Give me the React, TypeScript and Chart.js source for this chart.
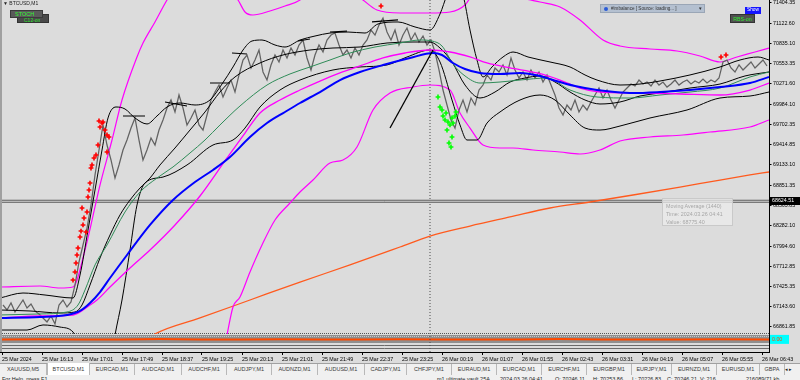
import React, { useEffect, useRef } from 'react';
import { Chart, registerables } from 'chart.js';
Chart.register(...registerables);

// ---------- axes ----------
const Y_MIN = 66511;
const Y_MAX = 71446;
const Y_TICKS = [71404.35, 71122.6, 70835.1, 70553.35, 70271.6, 69984.1, 69702.35, 69414.85, 69133.1, 68851.35, 68563.85, 68282.1, 67994.6, 67712.85, 67425.35, 67143.6, 66861.85];
const X_MIN = 0;
const X_MAX = 769;
const TIME_TICKS = [2, 42, 82, 122, 162, 202, 242, 282, 322, 362, 402, 442, 482, 522, 562, 602, 642, 682, 722, 762];
const TIME_LABELS = ['25 Mar 2024', '25 Mar 16:13', '25 Mar 17:01', '25 Mar 17:49', '25 Mar 18:37', '25 Mar 19:25', '25 Mar 20:13', '25 Mar 21:01', '25 Mar 21:49', '25 Mar 22:37', '25 Mar 23:25', '26 Mar 00:19', '26 Mar 01:07', '26 Mar 01:55', '26 Mar 02:43', '26 Mar 03:31', '26 Mar 04:19', '26 Mar 05:07', '26 Mar 05:55', '26 Mar 06:43'];

// ---------- price (close line, sampled every 4 bars from bar 3) ----------
const PRICE_START = 3;
const PRICE_STEP = 4;
const PRICE = [67170, 67100, 67198, 67072, 67156, 67240, 67128, 67184, 67086, 67044, 66988, 66932, 67016, 66904, 67170, 67240, 67142, 67212, 67450, 67773, 68011, 68249, 68572, 68993, 69343, 69694, 69413, 69203, 68950, 69133, 69343, 69483, 69651, 69792, 69483, 69203, 69343, 69511, 69413, 69623, 69764, 69932, 70044, 69876, 70114, 69932, 69694, 69792, 69904, 69694, 69623, 69834, 70044, 70156, 70254, 70086, 70212, 70324, 70156, 70395, 70605, 70675, 70493, 70605, 70745, 70437, 70324, 70535, 70675, 70577, 70745, 70633, 70773, 70675, 70815, 70885, 70633, 70465, 70675, 70815, 70717, 70885, 70955, 70983, 70815, 70675, 70745, 70633, 70773, 70675, 70815, 70885, 71025, 70955, 71096, 71194, 70997, 70885, 71025, 70815, 70955, 71053, 70885, 70983, 70857, 70941, 70815, 70885, 70717, 70465, 70184, 69974, 69764, 69651, 69904, 70044, 69876, 70072, 69974, 70184, 70254, 70395, 70324, 70493, 70437, 70535, 70395, 70633, 70465, 70352, 70437, 70324, 70465, 70352, 70437, 70296, 70395, 70254, 70114, 69932, 69834, 69974, 69904, 70044, 69876, 69974, 69904, 70016, 70114, 70212, 70072, 70184, 70044, 69932, 70044, 70156, 70212, 70268, 70240, 70324, 70268, 70296, 70240, 70324, 70254, 70296, 70226, 70268, 70324, 70254, 70296, 70324, 70268, 70310, 70282, 70338, 70282, 70324, 70296, 70352, 70577, 70605, 70493, 70437, 70535, 70465, 70521, 70577, 70493, 70549, 70605, 70521];

// ---------- indicator lines ----------
const BLUE_X = [0, 40, 67, 80, 90, 100, 110, 127, 150, 173, 195, 213, 230, 250, 267, 285, 300, 320, 340, 360, 383, 410, 433, 442, 453, 465, 480, 500, 520, 540, 553, 575, 597, 615, 633, 660, 690, 720, 750, 769];
const BLUE_Y = [66988, 67002, 67030, 67086, 67198, 67352, 67548, 67871, 68292, 68642, 68894, 69063, 69245, 69525, 69721, 69876, 70002, 70156, 70324, 70437, 70535, 70633, 70703, 70675, 70563, 70479, 70423, 70409, 70423, 70381, 70324, 70240, 70184, 70156, 70142, 70156, 70184, 70226, 70282, 70367];

const GREEN_X = [0, 40, 67, 78, 85, 95, 107, 125, 140, 157, 173, 190, 205, 220, 240, 267, 290, 310, 330, 350, 375, 400, 420, 432, 442, 453, 465, 480, 500, 520, 547, 570, 597, 630, 660, 690, 720, 750, 769];
const GREEN_Y = [67030, 67044, 67072, 67170, 67380, 67731, 68011, 68474, 68754, 68950, 69105, 69301, 69483, 69694, 69960, 70254, 70409, 70507, 70605, 70703, 70787, 70843, 70885, 70871, 70801, 70549, 70381, 70282, 70296, 70324, 70352, 70184, 70086, 70072, 70114, 70156, 70212, 70367, 70437];

const MAG_MID_X = [0, 40, 73, 90, 97, 110, 130, 150, 175, 200, 227, 245, 260, 280, 300, 320, 340, 360, 383, 405, 430, 450, 470, 487, 510, 537, 560, 580, 600, 637, 680, 720, 750, 769];
const MAG_MID_Y = [66988, 67016, 67030, 67170, 67240, 67422, 67689, 67941, 68292, 68698, 69231, 69581, 69862, 70044, 70184, 70310, 70423, 70521, 70633, 70703, 70745, 70717, 70647, 70563, 70493, 70423, 70324, 70212, 70156, 70142, 70128, 70114, 70184, 70282];

const MAG_UP_X = [0, 40, 60, 73, 85, 100, 112, 122, 137, 143, 155, 167, 180, 200, 225, 238, 245, 253, 270, 285, 300, 330, 350, 363, 377, 400, 430, 450, 465, 480, 500, 520, 540, 560, 580, 603, 620, 650, 677, 700, 720, 737, 755, 769];
const MAG_UP_Y = [67422, 67436, 67408, 67422, 67941, 68852, 69483, 70044, 70647, 70843, 71138, 71446, 71726, 72007, 71656, 71446, 71278, 71236, 71292, 71362, 71446, 71867, 71586, 71446, 71306, 71264, 71264, 71278, 71376, 71656, 71656, 71488, 71418, 71348, 71166, 70885, 70801, 70759, 70731, 70661, 70577, 70647, 70717, 70773];

const MAG_LO_X = [222, 227, 233, 240, 250, 262, 275, 290, 300, 313, 330, 343, 357, 373, 390, 413, 430, 450, 460, 470, 483, 500, 513, 533, 560, 580, 600, 620, 650, 683, 710, 750, 769];
const MAG_LO_Y = [66399, 66749, 67142, 67282, 67633, 68011, 68362, 68600, 68754, 68922, 69161, 69203, 69385, 69904, 70142, 70226, 70254, 70184, 69862, 69651, 69413, 69371, 69371, 69343, 69315, 69287, 69343, 69469, 69525, 69553, 69595, 69665, 69764];

const MA1440_X = [140, 153, 200, 250, 300, 350, 400, 430, 470, 510, 550, 590, 633, 680, 720, 750, 769];
const MA1440_Y = [66609, 66749, 66988, 67240, 67492, 67731, 67983, 68137, 68277, 68404, 68530, 68614, 68712, 68824, 68922, 68993, 69035];

const BB_UP_X = [0, 23, 45, 73, 80, 88, 95, 102, 108, 116, 125, 135, 147, 157, 167, 180, 195, 210, 222, 233, 243, 252, 262, 275, 285, 300, 315, 330, 348, 365, 378, 398, 415, 430, 440, 447, 455, 463, 470, 477, 483, 492, 503, 513, 528, 550, 570, 585, 597, 620, 640, 660, 690, 720, 740, 758, 769];
const BB_UP_Y = [67268, 67338, 67310, 67268, 67590, 68221, 68782, 69343, 69792, 69946, 69918, 69792, 69708, 69820, 69946, 70002, 69974, 70044, 70268, 70507, 70745, 70871, 70885, 70815, 70787, 70885, 70941, 70983, 70997, 70983, 71110, 71138, 71068, 71025, 71250, 71516, 71726, 71516, 71025, 70605, 70367, 70507, 70647, 70717, 70647, 70577, 70507, 70395, 70324, 70254, 70268, 70310, 70395, 70507, 70605, 70647, 70605];

const BB_MID_X = [0, 30, 60, 75, 82, 90, 100, 110, 120, 130, 140, 150, 160, 175, 190, 205, 220, 235, 260, 283, 310, 333, 360, 387, 413, 430, 440, 452, 465, 480, 495, 510, 525, 540, 555, 570, 585, 600, 620, 640, 660, 690, 720, 745, 769];
const BB_MID_Y = [67100, 67086, 67058, 67072, 67170, 67450, 67829, 68151, 68432, 68642, 68810, 68950, 69133, 69371, 69623, 69876, 70156, 70367, 70563, 70675, 70745, 70773, 70787, 70843, 70857, 70857, 70773, 70577, 70254, 70072, 70156, 70296, 70352, 70381, 70296, 70156, 70044, 69988, 70016, 70100, 70142, 70212, 70268, 70381, 70437];

const BB_LO_X = [0, 27, 43, 60, 73, 85, 100, 110, 115, 122, 130, 137, 145, 163, 187, 213, 233, 245, 260, 280, 300, 333, 360, 387, 407, 430, 440, 452, 460, 467, 477, 487, 500, 520, 540, 555, 570, 585, 600, 620, 650, 687, 720, 750, 769];
const BB_LO_Y = [66819, 66819, 66890, 66861, 66791, 66399, 66048, 66329, 66749, 67240, 67941, 68572, 68880, 68964, 69133, 69413, 69483, 69651, 69946, 70184, 70324, 70465, 70507, 70535, 70647, 70745, 70577, 70044, 69694, 69483, 69483, 69721, 69876, 70044, 70114, 70044, 69834, 69651, 69623, 69679, 69792, 69904, 70072, 70100, 70156];

// zigzag level marks (null = gap)
const MARK_X = [123, 145, 146, 165, 187, 188, 210, 230, 231, 232, 247, 248, 298, 310, 311, 330, 347, 348, 372, 398];
const MARK_Y = [69820, 69820, null, 70016, 69960, null, 70282, 70282, null, 70703, 70689, null, 70871, 70899, null, 70997, 71011, null, 71138, 71166];

// hand-drawn trend line
const TREND_X = [390, 433];
const TREND_Y = [69651, 70745];

// signal crosses
const RED_X = [73, 75, 76, 77, 78, 80, 81, 83, 84, 86, 82, 87, 88, 89, 90, 91, 92, 94, 96, 98, 107, 100, 99, 102, 103, 105, 107, 109, 381, 721, 726];
const RED_Y = [67520, 67633, 67759, 67871, 67969, 68123, 68207, 68292, 68390, 68193, 68530, 68474, 68684, 68782, 68880, 69091, 69133, 69231, 69273, 69413, 69315, 69665, 69750, 69721, 69736, 69623, 69553, 69525, 71362, 70647, 70675];
const GREEN_SIG_X = [438, 440, 442, 443, 445, 446, 448, 450, 452, 453, 455, 447, 449, 451, 452, 456];
const GREEN_SIG_Y = [70086, 69946, 69904, 69820, 69764, 69862, 69736, 69694, 69792, 69721, 69820, 69623, 69441, 69385, 69525, 69876];

const BID = 68624.51;
const SEPARATOR_X = 430;

// sub-window indicator (0..100 scale)
const SUB_X = [0, 40, 80, 120, 160, 200, 240, 280, 320, 360, 400, 440, 480, 520, 560, 600, 640, 680, 720, 769];
const SUB_Y = [70, 71, 69, 70, 72, 70, 69, 71, 70, 70, 71, 69, 70, 70, 72, 70, 69, 70, 71, 70];
const SUB_AXIS_MAX = 1955;

const TAB_LABELS = ['XAUUSD,M5', 'BTCUSD,M1', 'EURCAD,M1', 'AUDCAD,M1', 'AUDCHF,M1', 'AUDJPY,M1', 'AUDNZD,M1', 'AUDUSD,M1', 'CADJPY,M1', 'CHFJPY,M1', 'EURAUD,M1', 'EURCAD,M1', 'EURCHF,M1', 'EURGBP,M1', 'EURJPY,M1', 'EURNZD,M1', 'EURUSD,M1', 'GBPA'];
const TAB_W = [47, 43, 45, 47, 45, 45, 46, 47, 42, 45, 45, 45, 45, 45, 40, 45, 43, 25];

const STATUS = [
  { t: 'For Help, press F1', x: 2 },
  { t: 'm1 ultimate vault 25A', x: 437 },
  { t: '2024.03.26 04:41', x: 500 },
  { t: 'O: 70246.11', x: 555 },
  { t: 'H: 70253.86', x: 593 },
  { t: 'L: 70226.83', x: 632 },
  { t: 'C: 70246.21', x: 667 },
  { t: 'V: 216', x: 700 },
  { t: '216089/71 kb', x: 746 },
];

const FONT = '"Liberation Sans", Arial, sans-serif';
const MAIN_CLIP = { left: 0, top: 0, right: 0, bottom: -18 };

const pts = (xs: number[], ys: (number | null)[]) => xs.map((x, i) => ({ x, y: ys[i] }));

function lineDs(label: string, xs: number[], ys: (number | null)[], color: string, width: number, extra: any = {}) {
  return {
    type: 'line',
    label,
    data: pts(xs, ys),
    borderColor: color,
    borderWidth: width,
    pointRadius: 0,
    fill: false,
    cubicInterpolationMode: 'monotone',
    clip: MAIN_CLIP,
    ...extra,
  };
}

function crossDs(label: string, xs: number[], ys: number[], color: string) {
  return {
    type: 'line',
    label,
    data: pts(xs, ys),
    showLine: false,
    pointStyle: 'cross',
    pointRadius: 2.4,
    pointBorderWidth: 1.6,
    pointBorderColor: color,
    pointBackgroundColor: color,
    borderColor: color,
    clip: MAIN_CLIP,
  };
}

const decor = {
  id: 'decor',
  beforeDatasetsDraw(chart: any) {
    const { ctx, chartArea: a } = chart;
    const b = a.bottom;
    ctx.save();
    // sub-window band
    ctx.fillStyle = '#8f8f8f';
    ctx.fillRect(a.left, b - 17, a.right - a.left, 8);
    ctx.strokeStyle = '#555';
    ctx.lineWidth = 1;
    ctx.setLineDash([1, 1]);
    ctx.beginPath();
    ctx.moveTo(a.left, b - 18.5);
    ctx.lineTo(a.right, b - 18.5);
    ctx.stroke();
    ctx.strokeStyle = '#c8c8c8';
    ctx.beginPath();
    ctx.moveTo(a.left, b - 15.5);
    ctx.lineTo(a.right, b - 15.5);
    ctx.stroke();
    ctx.setLineDash([]);
    ctx.strokeStyle = '#6a6a6a';
    ctx.beginPath();
    ctx.moveTo(a.left, b - 6.5);
    ctx.lineTo(a.right, b - 6.5);
    ctx.moveTo(a.left, b - 3.5);
    ctx.lineTo(a.right, b - 3.5);
    ctx.stroke();
    ctx.restore();
  },
  afterDraw(chart: any) {
    const { ctx, chartArea: a, scales } = chart;
    const yb = Math.round(scales.y.getPixelForValue(BID));
    ctx.save();
    ctx.fillStyle = '#000';
    ctx.fillRect(a.right + 1, yb - 4, 800 - a.right - 1, 8);
    ctx.fillStyle = '#fff';
    ctx.font = `5.3px ${FONT}`;
    ctx.textBaseline = 'middle';
    ctx.textAlign = 'left';
    ctx.fillText(BID.toFixed(2), a.right + 3, yb);
    // sub-window value label
    const ys = scales.y2.getPixelForValue(SUB_Y[SUB_Y.length - 1]);
    ctx.fillStyle = '#00ffff';
    ctx.fillRect(a.right + 1, ys - 4.5, 19, 9);
    ctx.fillStyle = '#ff4a00';
    ctx.fillText('0.00', a.right + 3, ys);
    ctx.restore();
  },
};

export default function App() {
  const ref = useRef<HTMLCanvasElement>(null);
  useEffect(() => {
    const datasets: any[] = [
      crossDs('signal up', RED_X, RED_Y, '#ff0000'),
      crossDs('signal down', GREEN_SIG_X, GREEN_SIG_Y, '#00ff00'),
      lineDs('trend', TREND_X, TREND_Y, '#000', 1.3, { cubicInterpolationMode: 'default', tension: 0 }),
      lineDs('levels', MARK_X, MARK_Y, '#000', 1.2, { cubicInterpolationMode: 'default', tension: 0, spanGaps: false }),
      lineDs('MA blue', BLUE_X, BLUE_Y, '#0000ff', 2),
      lineDs('MA magenta', MAG_MID_X, MAG_MID_Y, '#ff00ff', 1.3),
      lineDs('MA green', GREEN_X, GREEN_Y, '#2e8b57', 1),
      lineDs('BB upper', BB_UP_X, BB_UP_Y, '#000', 1),
      lineDs('BB middle', BB_MID_X, BB_MID_Y, '#000', 1),
      lineDs('BB lower', BB_LO_X, BB_LO_Y, '#000', 1),
      lineDs('price', PRICE.map((_, i) => PRICE_START + PRICE_STEP * i), PRICE, '#626262', 1.25, { cubicInterpolationMode: 'default', tension: 0 }),
      lineDs('env upper', MAG_UP_X, MAG_UP_Y, '#ff00ff', 1.2),
      lineDs('env lower', MAG_LO_X, MAG_LO_Y, '#ff00ff', 1.2),
      lineDs('Moving Average (1440)', MA1440_X, MA1440_Y, '#ff5a1e', 1.3),
      lineDs('bid inner', [X_MIN, X_MAX], [BID, BID], '#dcdcdc', 1, { tension: 0 }),
      lineDs('bid', [X_MIN, X_MAX], [BID, BID], '#5a5a5a', 3, { tension: 0 }),
      {
        type: 'line', label: 'separator', data: [{ x: SEPARATOR_X, y: Y_MIN }, { x: SEPARATOR_X, y: Y_MAX }],
        borderColor: '#4a4a4a', borderWidth: 1, borderDash: [1, 2], pointRadius: 0,
      },
      {
        type: 'line', label: 'sub', data: pts(SUB_X, SUB_Y), yAxisID: 'y2',
        borderColor: '#ff4a00', borderWidth: 2, pointRadius: 0, tension: 0,
      },
    ];
    const tickFont = { size: 5.3, family: FONT };
    const chart = new Chart(ref.current as HTMLCanvasElement, {
      type: 'line',
      data: { datasets },
      options: {
        responsive: false,
        devicePixelRatio: 1,
        animation: false,
        events: [],
        layout: { padding: 0, autoPadding: false },
        plugins: { legend: { display: false }, tooltip: { enabled: false } },
        scales: {
          x: {
            type: 'linear', min: X_MIN, max: X_MAX,
            afterBuildTicks: (s: any) => { s.ticks = TIME_TICKS.map((v) => ({ value: v })); },
            afterFit: (s: any) => { s.height = 11; s.paddingLeft = 0; s.paddingRight = 0; },
            ticks: {
              align: 'start', maxRotation: 0, minRotation: 0, autoSkip: false, padding: 1,
              font: tickFont, color: '#000',
              callback: (_v: any, i: number) => TIME_LABELS[i],
            },
            grid: { drawOnChartArea: false, drawTicks: true, tickLength: 3, color: '#000' },
            border: { display: true, color: '#000', width: 1 },
          },
          y: {
            type: 'linear', position: 'right', min: Y_MIN, max: Y_MAX,
            afterBuildTicks: (s: any) => { s.ticks = Y_TICKS.map((v) => ({ value: v })); },
            afterFit: (s: any) => { s.width = 31; s.paddingTop = 0; s.paddingBottom = 0; },
            ticks: {
              autoSkip: false, padding: 1.5, font: tickFont, color: '#000',
              callback: (v: any) => Number(v).toFixed(2),
            },
            grid: { drawOnChartArea: false, drawTicks: true, tickLength: 2.5, color: '#000' },
            border: { display: true, color: '#000', width: 1 },
          },
          y2: { type: 'linear', display: false, min: 0, max: SUB_AXIS_MAX },
        },
      } as any,
      plugins: [decor],
    } as any);
    return () => chart.destroy();
  }, []);

  const boxText: React.CSSProperties = { position: 'absolute', fontFamily: FONT, whiteSpace: 'nowrap', lineHeight: 1 };
  let tabX = 0;

  return (
    <div style={{ position: 'fixed', left: 0, top: 0, width: 800, height: 380, overflow: 'hidden', background: '#dcdcdc', fontFamily: FONT }}>
      <canvas ref={ref} width={800} height={363} style={{ position: 'absolute', left: 0, top: 0, width: 800, height: 363, display: 'block' }} />
      <div style={{ position: 'absolute', left: 0, top: 0, width: 2, height: 352, background: '#a0a0a0' }} />
      {/* title */}
      <div style={{ ...boxText, left: 3, top: 1, fontSize: 5, color: '#222' }}>▼ BTCUSD,M1</div>
      {/* STOCH buttons */}
      <div style={{ ...boxText, left: 17, top: 14, width: 32, height: 9, background: '#4a4a4a', border: '1px solid #333', boxSizing: 'border-box', color: '#2ee82e', fontSize: 5, paddingLeft: 6, paddingTop: 3 }}>C12-on</div>
      <div style={{ ...boxText, left: 10, top: 10, width: 33, height: 8, background: '#5a5a5a', border: '1px solid #3a3a3a', boxSizing: 'border-box', color: '#33ff33', fontSize: 5.5, paddingLeft: 4, paddingTop: 1 }}>STOCH</div>
      {/* imbalance dropdown */}
      <div style={{ ...boxText, left: 600, top: 4, width: 105, height: 9, background: '#b4c0d0', border: '1px solid #9aa6b6', boxSizing: 'border-box', color: '#333', fontSize: 4.6, paddingTop: 1.5 }}>
        <span style={{ position: 'absolute', left: 3, top: 1.5, width: 4, height: 4, borderRadius: 3, background: '#2a5bd7' }} />
        <span style={{ position: 'absolute', left: 10, top: 1.5 }}>#imbalance [ Source: loading... ]</span>
        <span style={{ position: 'absolute', left: 97, top: 1.5 }}>▼</span>
      </div>
      {/* Show / RBS-on */}
      <div style={{ ...boxText, left: 745, top: 7, width: 16, height: 7, background: '#1414ff', color: '#fff', fontSize: 4.8, textAlign: 'center', paddingTop: 1, boxSizing: 'border-box' }}>Show</div>
      <div style={{ ...boxText, left: 730, top: 14, width: 25, height: 9, background: '#505050', border: '1px solid #333', boxSizing: 'border-box', color: '#33ee33', fontSize: 5.3, textAlign: 'center', paddingTop: 1.5 }}>RBS-on</div>
      {/* hover tooltip */}
      <div style={{ ...boxText, left: 662, top: 198, width: 71, height: 28, background: 'rgba(236,236,236,0.75)', border: '1px solid #c9c9c9', boxSizing: 'border-box', color: '#a6a6a6', fontSize: 5.4, padding: '3px 0 0 3px', lineHeight: '8px' }}>
        <div>Moving Average (1440)</div>
        <div>Time: 2024.03.26 04:41</div>
        <div>Value: 68775.40</div>
      </div>
      {/* tabs */}
      <div style={{ position: 'absolute', left: 0, top: 363, width: 800, height: 13, background: '#f0f0f0', borderTop: '1px solid #a0a0a0', boxSizing: 'border-box' }}>
        {TAB_LABELS.map((t, i) => {
          const left = tabX;
          tabX += TAB_W[i];
          const active = i === 1;
          return (
            <div key={i} style={{ position: 'absolute', left, top: active ? -1 : 0, width: TAB_W[i], height: active ? 12 : 11, background: active ? '#fff' : 'transparent', borderRight: '1px solid #b8b8b8', borderLeft: active ? '1px solid #b8b8b8' : 'none', boxSizing: 'border-box', fontSize: 5.5, color: '#3a3a3a', textAlign: 'center', lineHeight: active ? '12px' : '11px', fontFamily: FONT, whiteSpace: 'nowrap', overflow: 'hidden' }}>{t}</div>
          );
        })}
        <div style={{ position: 'absolute', left: 785, top: 2, fontSize: 5, color: '#222' }}>◂ ▸</div>
      </div>
      {/* status bar */}
      <div style={{ position: 'absolute', left: 0, top: 376, width: 800, height: 4, background: '#f0f0f0', overflow: 'hidden' }}>
        {STATUS.map((s, i) => (
          <div key={i} style={{ ...boxText, left: s.x, top: 1, fontSize: 5.5, color: '#222' }}>{s.t}</div>
        ))}
      </div>
    </div>
  );
}
